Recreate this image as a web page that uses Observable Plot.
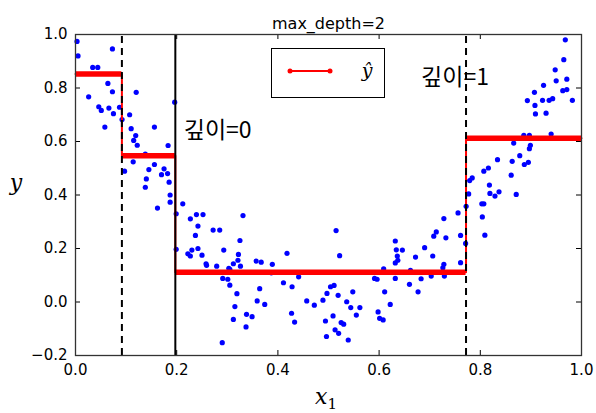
<!DOCTYPE html>
<html><head><meta charset="utf-8">
<script src="https://cdn.jsdelivr.net/npm/d3@7"></script>
<script src="https://cdn.jsdelivr.net/npm/@observablehq/plot@0.6"></script>
<style>body{margin:0;background:#fff}</style>
</head><body><div id="chart"></div>
<script>
const xs = [0.003,0.005,0.073,0.034,0.044,0.064,0.073,0.026,0.120,0.046,0.051,0.066,0.075,0.087,0.092,0.107,0.058,0.110,0.156,0.119,0.115,0.122,0.183,0.196,0.138,
0.097,0.114,0.145,0.156,0.175,0.182,0.170,0.140,0.185,0.138,0.187,0.187,0.162,0.199,0.212,0.227,0.239,0.252,0.242,0.237,0.199,0.230,0.222,0.227,0.242,0.250,0.258,0.259,0.272,0.285,0.293,0.279,0.291,0.301,0.305,0.319,0.315,0.312,0.290,0.303,0.312,0.325,0.322,0.321,
0.331,0.326,0.305,0.338,0.337,0.349,0.357,0.367,0.364,0.359,0.374,0.389,0.387,0.418,0.411,0.428,0.427,0.433,0.441,0.457,0.472,0.489,0.497,0.504,0.511,0.515,0.522,0.494,0.496,0.509,0.513,0.520,0.519,0.525,0.530,0.539,0.536,0.544,0.548,0.555,0.562,0.591,0.596,0.598,0.601,0.608,0.609,0.611,0.622,0.632,0.634,0.646,0.636,0.637,0.632,0.632,0.660,0.672,0.662,0.677,
0.683,0.690,0.703,0.706,0.708,0.713,0.728,0.732,0.728,0.726,0.729,0.756,0.761,0.771,0.761,0.772,0.803,0.807,0.804,0.809,
0.968,0.965,0.948,0.950,0.971,0.963,0.971,0.982,0.925,0.907,0.923,0.936,0.943,0.893,0.908,0.930,0.909,0.940,0.886,0.897,0.866,0.899,0.897,0.878,0.863,0.887,0.895,0.834,0.816,0.807,0.784,0.779,0.861,0.818,0.819,0.829,0.837,0.871,0.777];
const ys = [0.974,0.920,0.946,0.877,0.877,0.817,0.786,0.767,0.784,0.730,0.716,0.725,0.704,0.728,0.682,0.700,0.654,0.648,0.654,0.622,0.604,0.586,0.585,0.747,0.553,
0.489,0.524,0.495,0.514,0.498,0.480,0.476,0.460,0.448,0.429,0.400,0.373,0.351,0.330,0.367,0.311,0.327,0.327,0.284,0.249,0.197,0.194,0.180,0.172,0.200,0.175,0.143,0.137,0.269,0.269,0.194,0.134,0.088,0.085,0.063,0.031,-0.017,-0.065,-0.152,0.126,0.143,0.230,0.178,0.156,
0.323,0.134,0.122,-0.046,-0.093,-0.055,0.153,0.149,0.050,0.004,-0.009,0.141,0.109,0.182,0.072,0.057,-0.042,-0.075,0.094,0.004,-0.012,0.007,0.032,0.057,0.062,0.267,0.173,-0.071,-0.129,-0.052,-0.104,-0.117,0.025,-0.077,-0.083,-0.142,0.001,-0.021,0.038,-0.049,-0.021,0.088,0.085,-0.037,-0.061,-0.067,0.124,0.038,-0.009,0.228,0.195,0.194,0.172,0.156,0.146,0.088,0.066,0.168,0.118,0.038,
0.087,0.203,0.097,0.172,0.246,0.262,0.312,0.240,0.141,0.128,0.097,0.333,0.249,0.219,0.147,0.358,0.367,0.367,0.318,0.250,
0.980,0.906,0.868,0.827,0.833,0.790,0.794,0.754,0.810,0.784,0.754,0.754,0.760,0.753,0.735,0.706,0.703,0.628,0.623,0.623,0.594,0.586,0.573,0.547,0.526,0.514,0.522,0.532,0.501,0.489,0.464,0.454,0.474,0.437,0.406,0.396,0.412,0.402,0.404];

const segStart = [0, 0.0917, 0.1973, 0.7718];
const segEnd   = [0.0917, 0.1973, 0.7718, 1.0];
const segValue = [0.852, 0.547, 0.111, 0.612];
const rootSplit = [0.1973];
const depth1Splits = [0.0917, 0.7718];
const xTicks = [0, 0.2, 0.4, 0.6, 0.8, 1.0];
const yTicks = [-0.2, 0, 0.2, 0.4, 0.6, 0.8, 1.0];
const titleText = "max_depth=2";
const notes = [{x: 0.214, y: 0.641, t: "깊이=0"}, {x: 0.683, y: 0.840, t: "깊이=1"}];

const points = xs.map((x, i) => ({x, y: ys[i]}));
const segs = segValue.map((v, i) => ({x1: segStart[i], x2: segEnd[i], y: v}));
const stepPts = segs.flatMap(s => [{x: s.x1, y: s.y}, {x: s.x2, y: s.y}]);

const W = 596, H = 413, mL = 75, mR = 15, mT = 34, mB = 58;
const fw = W - mL - mR, fh = H - mT - mB, tk = 5;

const plot = Plot.plot({
  width: W, height: H,
  marginLeft: mL, marginRight: mR, marginTop: mT, marginBottom: mB,
  style: {fontFamily: "DejaVu Sans", fontSize: "15px", color: "#000", background: "#fff"},
  x: {domain: [0, 1]},
  y: {domain: [-0.2, 1.0]},
  marks: [
    Plot.dot(points, {x: "x", y: "y", r: 2.6, fill: "#0000ff", stroke: "none"}),
    Plot.line(stepPts, {x: "x", y: "y", stroke: "#ff0000", strokeWidth: 2}),
    Plot.ruleY(segs, {y: "y", x1: "x1", x2: "x2", stroke: "#ff0000", strokeWidth: 5.5}),
    Plot.ruleX(rootSplit, {x: d => d, y1: -0.2, y2: 1.0, stroke: "#000", strokeWidth: 2}),
    Plot.ruleX(depth1Splits, {x: d => d, y1: -0.2, y2: 1.0, stroke: "#000", strokeWidth: 2, strokeDasharray: "7,5"}),
    Plot.tickX(xTicks, {x: d => d, insetTop: fh - tk, stroke: "#000"}),
    Plot.tickX(xTicks, {x: d => d, insetBottom: fh - tk, stroke: "#000"}),
    Plot.tickY(yTicks, {y: d => d, insetRight: fw - tk, stroke: "#000"}),
    Plot.tickY(yTicks, {y: d => d, insetLeft: fw - tk, stroke: "#000"}),
    Plot.axisX(xTicks, {tickSize: 0, tickPadding: 9, tickFormat: d3.format(".1f"), label: null, fontSize: 15}),
    Plot.axisY(yTicks, {tickSize: 0, tickPadding: 8, tickFormat: d3.format(".1f"), label: null, fontSize: 15}),
    Plot.frame({stroke: "#333", strokeWidth: 1.3}),
    Plot.text(notes, {x: "x", y: "y", text: "t", textAnchor: "start", fontSize: 23, fontFamily: "Noto Sans CJK KR", fill: "#000"}),
    Plot.text([titleText], {frameAnchor: "top", dy: -17, fontSize: 16, fill: "#000"})
  ]
});

const svg = d3.select(plot);
// legend
const lg = svg.append("g");
lg.append("rect").attr("x", 271.5).attr("y", 48.5).attr("width", 113).attr("height", 49)
  .attr("fill", "#fff").attr("stroke", "#000").attr("stroke-width", 1);
lg.append("line").attr("x1", 290).attr("x2", 330).attr("y1", 71).attr("y2", 71)
  .attr("stroke", "#ff0000").attr("stroke-width", 2);
[290, 330].forEach(cx => lg.append("circle").attr("cx", cx).attr("cy", 71).attr("r", 2.5).attr("fill", "#ff0000"));
lg.append("text").attr("x", 367).attr("y", 77).attr("text-anchor", "middle")
  .attr("font-family", "DejaVu Serif").attr("font-style", "italic").attr("font-size", 19).text("ŷ");
// axis labels
svg.append("text").attr("x", 16).attr("y", 190).attr("text-anchor", "middle")
  .attr("font-family", "DejaVu Serif").attr("font-style", "italic").attr("font-size", 22).text("y");
const xl = svg.append("text").attr("x", 326).attr("y", 404).attr("text-anchor", "middle")
  .attr("font-family", "DejaVu Serif").attr("font-size", 22);
xl.append("tspan").attr("font-style", "italic").text("x");
xl.append("tspan").attr("font-size", 15).attr("dy", 5).text("1");

document.getElementById("chart").appendChild(plot);
</script>
</body></html>
